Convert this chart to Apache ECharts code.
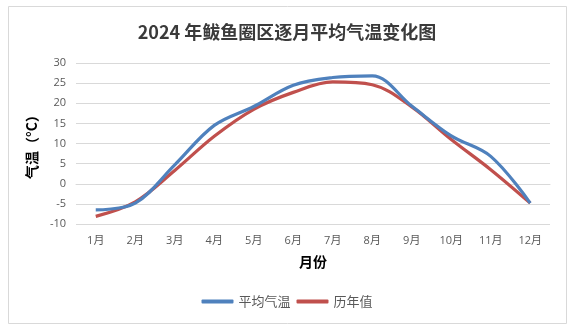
<!DOCTYPE html>
<html>
<head>
<meta charset="utf-8">
<style>
  html, body { margin: 0; padding: 0; background: #ffffff; }
  #chart { width: 574px; height: 330px; }
</style>
<script src="https://cdn.jsdelivr.net/npm/echarts@6/dist/echarts.min.js"></script>
</head>
<body>
<div id="chart"></div>
<script>
// Monthly mean temperature, Bayuquan district, 2024 vs. long-term normal
const months = ['1月', '2月', '3月', '4月', '5月', '6月', '7月', '8月', '9月', '10月', '11月', '12月'];
const avgTemp2024 = [-6.5, -4.8, 4.7, 14.5, 19.2, 24.5, 26.4, 26.8, 19.3, 11.9, 6.8, -4.8];
const normalTemp = [-8.1, -4.5, 3.3, 11.8, 18.5, 22.7, 25.3, 24.6, 19.1, 11.0, 3.5, -4.8];
const yTicks = { min: -10, max: 30, interval: 5 };

const cjk = '"Noto Sans CJK SC", "Noto Sans", sans-serif';
const num = '"Open Sans", "Noto Sans CJK SC", sans-serif';

const chart = echarts.init(document.getElementById('chart'), null, { renderer: 'canvas' });

chart.setOption({
  backgroundColor: '#ffffff',
  animation: false,
  graphic: [{
    type: 'rect',
    shape: { x: 8.5, y: 6.5, width: 558, height: 317 },
    style: { fill: 'none', stroke: '#d9d9d9', lineWidth: 1 },
    silent: true,
    z: -1
  }],
  title: {
    text: '2024 年鲅鱼圈区逐月平均气温变化图',
    left: 'center',
    top: 18,
    textStyle: { fontFamily: cjk, fontSize: 18, fontWeight: 'bold', color: '#3a3a3a' }
  },
  grid: { left: 76, right: 24, top: 63, bottom: 106 },
  legend: {
    bottom: 17,
    left: 'center',
    itemWidth: 32,
    itemHeight: 4,
    itemGap: 6,
    icon: 'roundRect',
    textStyle: { fontFamily: cjk, fontSize: 13, color: '#595959' },
    data: ['平均气温', '历年值']
  },
  xAxis: {
    type: 'category',
    data: months,
    boundaryGap: true,
    name: '月份',
    nameLocation: 'middle',
    nameGap: 31,
    nameTextStyle: { fontFamily: cjk, fontSize: 14, fontWeight: 'bold', color: '#000000' },
    axisLine: { show: true, lineStyle: { color: '#d9d9d9' } },
    axisTick: { show: false },
    axisLabel: { fontFamily: num, fontSize: 11, color: '#595959', margin: 11 }
  },
  yAxis: {
    type: 'value',
    min: yTicks.min,
    max: yTicks.max,
    interval: yTicks.interval,
    name: '气温（°C）',
    nameLocation: 'middle',
    nameGap: 36,
    nameRotate: 90,
    nameTextStyle: { fontFamily: cjk, fontSize: 14, fontWeight: 'bold', color: '#000000' },
    axisLine: { show: false },
    axisTick: { show: false },
    splitLine: { lineStyle: { color: '#d9d9d9' } },
    axisLabel: { fontFamily: num, fontSize: 11, color: '#595959', margin: 10 }
  },
  series: [
    {
      name: '平均气温',
      type: 'line',
      data: avgTemp2024,
      smooth: 0.35,
      symbol: 'none',
      lineStyle: { color: '#4f81bd', width: 3.2 },
      itemStyle: { color: '#4f81bd' },
      z: 3
    },
    {
      name: '历年值',
      type: 'line',
      data: normalTemp,
      smooth: 0.35,
      symbol: 'none',
      lineStyle: { color: '#c0504d', width: 3.2 },
      itemStyle: { color: '#c0504d' },
      z: 2
    }
  ]
});
</script>
</body>
</html>
